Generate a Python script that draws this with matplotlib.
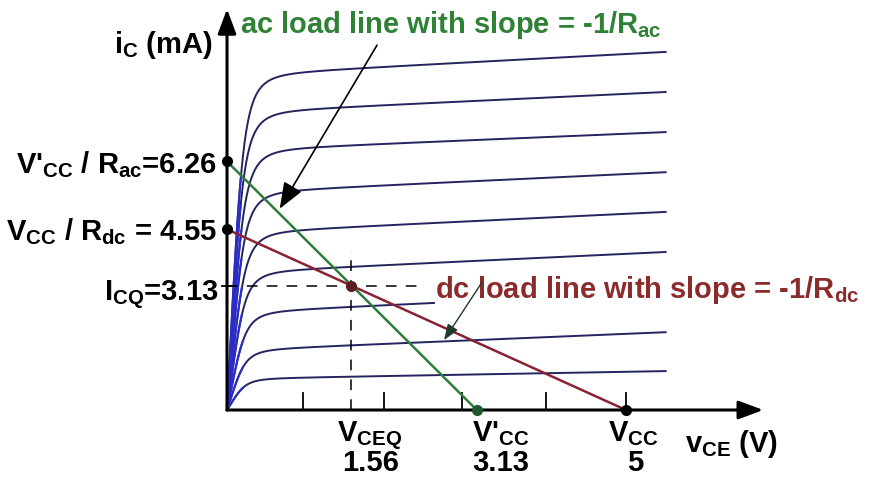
import numpy as np
import matplotlib
matplotlib.use("Agg")
import matplotlib.pyplot as plt

# operating point and load line end points
v_cc = 5.0
v_cc_ac = 3.13
v_ceq = 1.56
i_cq = 3.13
i_dc_max = 4.55
i_ac_max = 6.26

# transistor output curves: current at 0.7 V and at 5.5 V, knee voltage
curve_left = [8.51, 7.56, 6.60, 5.54, 4.53, 3.53, 2.52, 1.56, 0.81]
curve_right = [9.02, 8.01, 7.00, 5.99, 4.99, 3.98, 2.97, 1.96, 0.98]
curve_knee = [0.22, 0.22, 0.23, 0.23, 0.24, 0.24, 0.25, 0.25, 0.25]
curve_end = 5.5

# small ticks along the v_CE axis
x_ticks = [0.95, 1.97, 2.95, 4.0, 5.0]

plt.rcParams['font.family'] = ['Liberation Sans', 'DejaVu Sans']
plt.rcParams['font.weight'] = 'bold'
plt.rcParams['mathtext.fontset'] = 'custom'
plt.rcParams['mathtext.rm'] = 'Liberation Sans:bold'
plt.rcParams['mathtext.it'] = 'Liberation Sans:bold'
plt.rcParams['mathtext.bf'] = 'Liberation Sans:bold'
plt.rcParams['mathtext.sf'] = 'Liberation Sans:bold'

GREEN = '#2e7d3c'
GREEN_TXT = '#2f8235'
MAROON = '#8a2233'
MAROON_TXT = '#8c2b2b'
NAVY = '#24245e'
BLUE = '#2c2cc8'
FS = 21


def output_curve(v, left, right, knee):
    flat = left + (right - left) * (v - 0.7) / (curve_end - 0.7)
    rise = left / knee * v
    p = 3.0
    with np.errstate(divide='ignore'):
        out = (rise ** -p + flat ** -p) ** (-1.0 / p)
    out[v == 0] = 0.0
    return out


def arrow(ax, start, tip, color, lw, hw, hl, ms, z=6):
    ax.annotate('', xy=tip, xytext=start,
                arrowprops=dict(arrowstyle='-|>,head_width=%s,head_length=%s' % (hw, hl),
                                color=color, lw=lw, mutation_scale=ms,
                                shrinkA=0, shrinkB=0), zorder=z)


fig = plt.figure(figsize=(8.72, 4.78), dpi=100)
ax = fig.add_axes([0, 0, 1, 1])
ax.set_xlim(-2.845, 8.083)
ax.set_ylim(-1.713, 10.327)
ax.axis('off')

# output characteristics
v = np.linspace(0, curve_end, 800)
for left, right, knee in zip(curve_left, curve_right, curve_knee):
    i = output_curve(v, left, right, knee)
    ax.plot(v, i, color=NAVY, lw=1.4, zorder=2, solid_capstyle='round')
    steep = v <= knee * 0.8
    ax.plot(v[steep], i[steep], color=BLUE, lw=1.5, zorder=2.1)

# axes with arrow heads
arrow(ax, (0, 0), (0, 10.1), 'black', 2.2, 0.28, 0.75, 20)
arrow(ax, (0, 0), (6.72, 0), 'black', 2.2, 0.28, 0.75, 20)
for t in x_ticks:
    ax.plot([t, t], [0, 0.43], color='black', lw=1.3, zorder=3)
ax.plot([-0.06, 0.1], [i_cq, i_cq], color='black', lw=1.3, zorder=3)

# quiescent point guides
ax.plot([0, 2.42], [i_cq, i_cq], color='black', lw=1.1, ls=(0, (7, 6)), zorder=3)
ax.plot([v_ceq, v_ceq], [0, 4.0], color='black', lw=1.1, ls=(0, (7, 6)), zorder=3)

# load lines
ax.plot([0, v_cc_ac], [i_ac_max, 0], color=GREEN, lw=1.8, zorder=4)
ax.plot([0, v_cc], [i_dc_max, 0], color=MAROON, lw=1.8, zorder=4)

ax.plot([0, 0, v_cc], [i_ac_max, i_dc_max, 0], 'o', color='black', ms=7, zorder=7)
ax.plot([v_cc_ac], [0], 'o', color='#1f5a2a', ms=7, zorder=7)
ax.plot([v_ceq], [i_cq], 'o', color='#5a1e1e', ms=7, zorder=7)

# callouts
arrow(ax, (1.88, 9.19), (0.66, 5.07), 'black', 1.2, 0.35, 0.9, 18)
arrow(ax, (3.19, 3.20), (2.72, 1.76), '#203a30', 1.0, 0.3, 0.8, 12, z=9)

ax.text(0.163, 9.50, 'ac load line with slope = -1/R$_{\\mathrm{ac}}$',
        color=GREEN_TXT, fontsize=FS, fontweight='bold', ha='left', va='baseline', zorder=8)
ax.text(2.61, 2.82, 'dc load line with slope = -1/R$_{\\mathrm{dc}}$',
        color=MAROON_TXT, fontsize=FS, fontweight='bold', ha='left', va='baseline', zorder=8,
        bbox=dict(facecolor='white', edgecolor='none', pad=0.5))

# axis labels
ax.text(-0.175, 8.99, 'i$_{\\mathrm{C}}$ (mA)', fontsize=FS, ha='right', va='baseline')
ax.text(5.74, -1.06, 'v$_{\\mathrm{CE}}$ (V)', fontsize=FS, ha='left', va='baseline')

ax.text(-0.125, 5.97, "V'$_{\\mathrm{CC}}$ / R$_{\\mathrm{ac}}$=%.2f" % i_ac_max,
        fontsize=FS, ha='right', va='baseline')
ax.text(-0.125, 4.28, "V$_{\\mathrm{CC}}$ / R$_{\\mathrm{dc}}$ = %.2f" % i_dc_max,
        fontsize=FS, ha='right', va='baseline')
ax.text(-0.11, 2.77, "I$_{\\mathrm{CQ}}$=%.2f" % i_cq,
        fontsize=FS, ha='right', va='baseline')

# labels under the v_CE axis
row1, row2 = -0.78, -1.54
ax.text(1.38, row1, 'V$_{\\mathrm{CEQ}}$', fontsize=FS, ha='left', va='baseline')
ax.text(1.44, row2, '%.2f' % v_ceq, fontsize=FS, ha='left', va='baseline')
ax.text(3.07, row1, "V'$_{\\mathrm{CC}}$", fontsize=FS, ha='left', va='baseline')
ax.text(3.07, row2, '%.2f' % v_cc_ac, fontsize=FS, ha='left', va='baseline')
ax.text(4.77, row1, 'V$_{\\mathrm{CC}}$', fontsize=FS, ha='left', va='baseline')
ax.text(5.01, row2, '%g' % v_cc, fontsize=FS, ha='left', va='baseline')

fig.savefig('out.png', dpi=100, facecolor='white')
